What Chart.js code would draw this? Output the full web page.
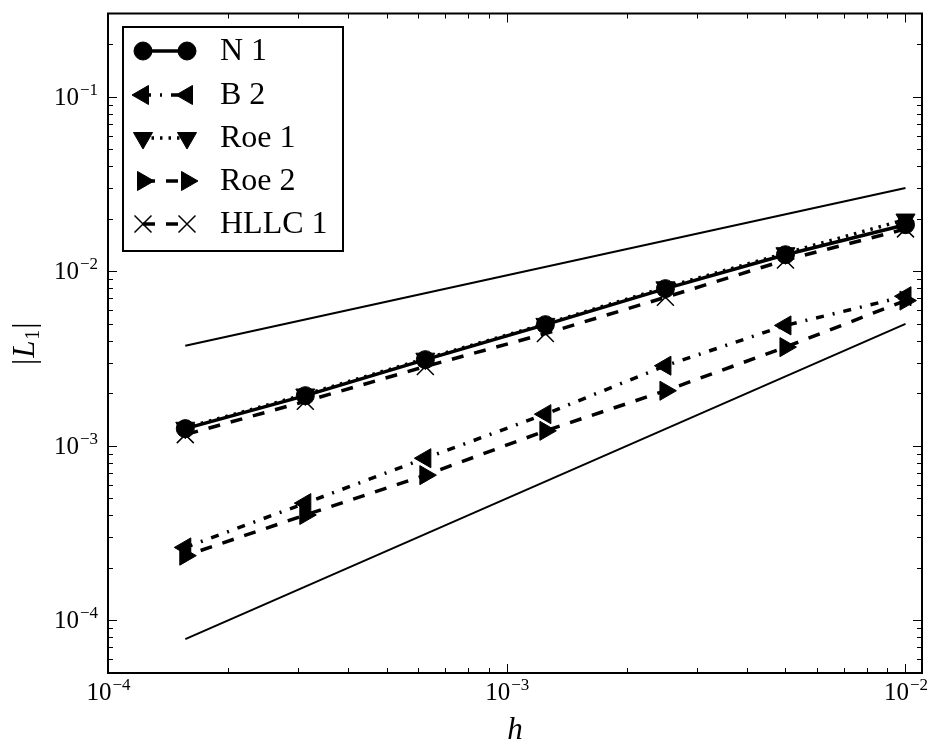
<!DOCTYPE html>
<html>
<head>
<meta charset="utf-8">
<script src="https://cdn.jsdelivr.net/npm/chart.js@4"></script>
<style>
    html, body { margin: 0; padding: 0; background: #fff; }
</style>
</head>
<body>
<canvas id="errChart" width="938" height="749"></canvas>
<script>
// mesh sizes and L1 errors
const hValues = [0.01, 0.005, 0.0025, 0.00125, 0.000625, 0.0003125, 0.00015625];
const n1 = [0.0185, 0.01245, 0.00796, 0.00495, 0.00312, 0.00194, 0.001256];
const b2 = [0.0072, 0.0049, 0.00288, 0.00152, 0.00085, 0.00047, 0.000262];
const roe1 = [0.0198, 0.0127, 0.0081, 0.00500, 0.00316, 0.00197, 0.00127];
const roe2 = [0.0068, 0.00368, 0.00207, 0.00122, 0.00068, 0.000402, 0.000235];
const hllc1 = [0.0175, 0.0116, 0.0071, 0.0044, 0.00285, 0.00180, 0.00116];

// reference slopes (order 1/2 and order 1)
const refH = [0.01, 0.00015625];
const refHalf = [0.03, 0.00375];
const refOne = [0.005, 0.000078125];

const xMajorTicks = [1e-4, 1e-3, 1e-2];
const xTickLabels = ['−4', '−3', '−2'];
const yMajorTicks = [1e-4, 1e-3, 1e-2, 1e-1];
const yTickLabels = ['−4', '−3', '−2', '−1'];

const SERIF = '"Liberation Serif", "DejaVu Serif", serif';

function pts(ys, xs) {
    return ys.map((v, i) => ({ x: (xs || hValues)[i], y: v }));
}

function series(label, ys, style, rotation, dash, radius, pbw) {
    return {
        label: label,
        data: pts(ys),
        borderColor: '#000',
        backgroundColor: '#000',
        borderWidth: 3.5,
        borderDash: dash,
        borderCapStyle: 'butt',
        pointStyle: style,
        rotation: rotation,
        pointRadius: radius,
        pointBorderWidth: pbw,
        pointBackgroundColor: '#000',
        pointBorderColor: '#000',
        tension: 0
    };
}

function minorTicks(min, max) {
    const out = [];
    for (let e = -6; e <= 1; e++) {
        for (let k = 2; k <= 9; k++) {
            const v = k * Math.pow(10, e);
            if (v > min && v < max) out.push(v);
        }
    }
    return out;
}

const frame = {
    id: 'frame',
    afterDraw(chart) {
        const ctx = chart.ctx;
        const a = chart.chartArea;
        const xs = chart.scales.x, ys = chart.scales.y;
        ctx.save();
        ctx.strokeStyle = '#000';
        ctx.fillStyle = '#000';

        function seg(x1, y1, x2, y2) {
            ctx.beginPath();
            ctx.moveTo(x1, y1);
            ctx.lineTo(x2, y2);
            ctx.stroke();
        }

        // inward ticks on all four sides
        ctx.lineWidth = 1;
        xMajorTicks.forEach(v => {
            const p = Math.round(xs.getPixelForValue(v)) + 0.5;
            seg(p, a.bottom, p, a.bottom - 9);
            seg(p, a.top, p, a.top + 9);
        });
        minorTicks(xs.min, xs.max).forEach(v => {
            const p = Math.round(xs.getPixelForValue(v)) + 0.5;
            seg(p, a.bottom, p, a.bottom - 5);
            seg(p, a.top, p, a.top + 5);
        });
        yMajorTicks.forEach(v => {
            const p = Math.round(ys.getPixelForValue(v)) + 0.5;
            seg(a.left, p, a.left + 9, p);
            seg(a.right, p, a.right - 9, p);
        });
        minorTicks(ys.min, ys.max).forEach(v => {
            const p = Math.round(ys.getPixelForValue(v)) + 0.5;
            seg(a.left, p, a.left + 5, p);
            seg(a.right, p, a.right - 5, p);
        });

        // axes box
        ctx.lineWidth = 2;
        ctx.strokeRect(a.left, a.top, a.right - a.left, a.bottom - a.top);

        // tick labels 10^k
        const big = '25px ' + SERIF, small = '17px ' + SERIF;
        ctx.textBaseline = 'alphabetic';
        xMajorTicks.forEach((v, i) => {
            const p = xs.getPixelForValue(v);
            ctx.font = big;
            const w1 = ctx.measureText('10').width;
            ctx.font = small;
            const w2 = ctx.measureText(xTickLabels[i]).width;
            const x0 = p - (w1 + w2) / 2;
            ctx.textAlign = 'left';
            ctx.font = big;
            ctx.fillText('10', x0, a.bottom + 27);
            ctx.font = small;
            ctx.fillText(xTickLabels[i], x0 + w1 + 1, a.bottom + 17);
        });
        yMajorTicks.forEach((v, i) => {
            const p = ys.getPixelForValue(v);
            ctx.font = small;
            const w2 = ctx.measureText(yTickLabels[i]).width;
            ctx.font = big;
            const w1 = ctx.measureText('10').width;
            const xr = a.left - 10;
            ctx.textAlign = 'left';
            ctx.fillText('10', xr - w2 - w1 - 1, p + 8);
            ctx.font = small;
            ctx.fillText(yTickLabels[i], xr - w2, p - 2);
        });

        // axis titles
        ctx.textAlign = 'center';
        ctx.font = 'italic 31px ' + SERIF;
        ctx.fillText('h', (a.left + a.right) / 2, 739);

        ctx.save();
        ctx.translate(24, (a.top + a.bottom) / 2);
        ctx.rotate(-Math.PI / 2);
        ctx.textAlign = 'left';
        const parts = [
            ['|', '31px ' + SERIF, 0],
            ['L', 'italic 31px ' + SERIF, 0],
            ['1', '20px ' + SERIF, 5],
            ['|', '31px ' + SERIF, 0]
        ];
        let tw = 0;
        parts.forEach(p => { ctx.font = p[1]; tw += ctx.measureText(p[0]).width + 1; });
        let cx = -tw / 2;
        parts.forEach(p => {
            ctx.font = p[1];
            ctx.fillText(p[0], cx, 10 + p[2]);
            cx += ctx.measureText(p[0]).width + 1;
        });
        ctx.restore();

        // legend
        const box = { l: 123, t: 27, r: 343, b: 251 };
        ctx.fillStyle = '#fff';
        ctx.fillRect(box.l, box.t, box.r - box.l, box.b - box.t);
        ctx.lineWidth = 2;
        ctx.strokeRect(box.l, box.t, box.r - box.l, box.b - box.t);
        const rows = [51, 95, 138, 181, 224];
        chart.data.datasets.slice(0, 5).forEach((ds, i) => {
            const yy = rows[i];
            ctx.strokeStyle = '#000';
            ctx.fillStyle = '#000';
            ctx.lineWidth = ds.borderWidth;
            ctx.lineCap = 'butt';
            ctx.setLineDash(ds.borderDash);
            seg(143, yy, 187, yy);
            ctx.setLineDash([]);
            const opt = { pointStyle: ds.pointStyle, rotation: ds.rotation, radius: ds.pointRadius, borderWidth: ds.pointBorderWidth };
            ctx.lineWidth = ds.pointBorderWidth;
            Chart.helpers.drawPoint(ctx, opt, 143, yy);
            Chart.helpers.drawPoint(ctx, opt, 187, yy);
            ctx.font = '32px ' + SERIF;
            ctx.textAlign = 'left';
            ctx.textBaseline = 'middle';
            ctx.fillText(ds.label, 220, yy + 1);
        });
        ctx.restore();
    }
};

const refStyle = {
    borderColor: '#000',
    borderWidth: 2,
    pointRadius: 0,
    borderDash: [],
    tension: 0
};

new Chart(document.getElementById('errChart'), {
    type: 'line',
    data: {
        datasets: [
            series('N 1', n1, 'circle', 0, [], 9, 1),
            series('B 2', b2, 'triangle', 270, [8, 9, 2, 9], 11, 1),
            series('Roe 1', roe1, 'triangle', 180, [2.5, 6], 11, 1),
            series('Roe 2', roe2, 'triangle', 90, [12, 11], 11, 1),
            series('HLLC 1', hllc1, 'crossRot', 0, [12, 11], 12, 1.5),
            Object.assign({ label: 'slope 1/2', data: pts(refHalf, refH) }, refStyle),
            Object.assign({ label: 'slope 1', data: pts(refOne, refH) }, refStyle)
        ]
    },
    plugins: [frame],
    options: {
        responsive: false,
        animation: false,
        layout: { padding: { left: 108, right: 16, top: 13, bottom: 76 } },
        plugins: { legend: { display: false }, tooltip: { enabled: false } },
        scales: {
            x: { type: 'logarithmic', min: 1e-4, max: 0.011, display: false },
            y: { type: 'logarithmic', min: 5e-5, max: 0.3, display: false }
        }
    }
});
</script>
</body>
</html>
